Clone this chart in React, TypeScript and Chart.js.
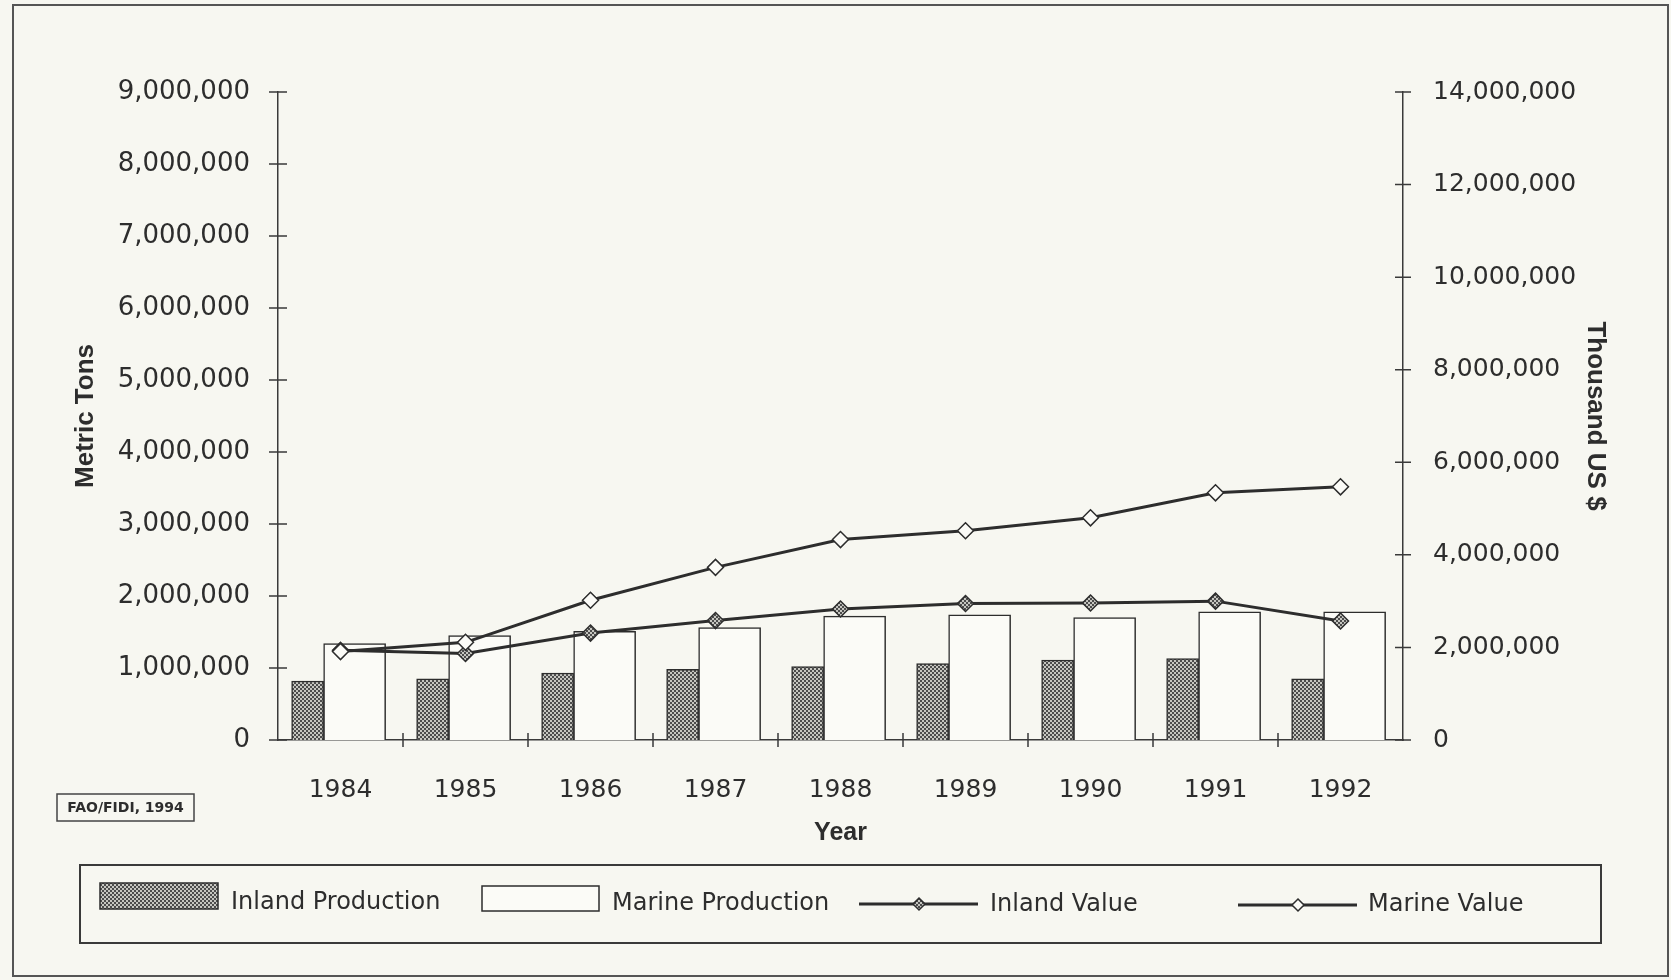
import React, { useEffect, useRef } from 'react';
import { Chart, registerables } from 'chart.js';

Chart.register(...registerables);

const years = ['1984', '1985', '1986', '1987', '1988', '1989', '1990', '1991', '1992'];
const inlandProduction = [820000, 850000, 930000, 980000, 1020000, 1060000, 1110000, 1130000, 850000];
const marineProduction = [1340000, 1450000, 1510000, 1560000, 1720000, 1740000, 1700000, 1780000, 1780000];
const inlandValue = [1940000, 1870000, 2310000, 2580000, 2830000, 2950000, 2960000, 3000000, 2570000];
const marineValue = [1910000, 2110000, 3020000, 3730000, 4330000, 4520000, 4800000, 5340000, 5470000];

const leftAxisMax = 9000000;
const leftAxisStep = 1000000;
const rightAxisMax = 14000000;
const rightAxisStep = 2000000;

const legendLabels = ['Inland Production', 'Marine Production', 'Inland Value', 'Marine Value'];
const sourceNote = 'FAO/FIDI, 1994';

const BG = '#f7f7f1';
const INK = '#2d2d2d';
const AXIS = '#3a3a3a';
const TICK_FONT = 'DejaVu Sans';
const TITLE_FONT = 'Liberation Sans';

const fmt = (v: number) => String(Math.round(v)).replace(/\B(?=(\d{3})+(?!\d))/g, ',');

function diamond(ctx: CanvasRenderingContext2D, x: number, y: number, r: number, fill: any) {
  ctx.beginPath();
  ctx.moveTo(x, y - r);
  ctx.lineTo(x + r, y);
  ctx.lineTo(x, y + r);
  ctx.lineTo(x - r, y);
  ctx.closePath();
  ctx.fillStyle = fill;
  ctx.fill();
  ctx.lineWidth = 1.5;
  ctx.strokeStyle = INK;
  ctx.stroke();
}

const integerTicks = (s: any) => {
  s.ticks = years.map((_, i) => ({ value: i }));
};

export default function App() {
  const ref = useRef<HTMLCanvasElement>(null);

  useEffect(() => {
    const canvas = ref.current!;
    const pc = document.createElement('canvas');
    pc.width = 4;
    pc.height = 4;
    const pctx = pc.getContext('2d')!;
    pctx.fillStyle = '#c6c6c0';
    pctx.fillRect(0, 0, 4, 4);
    pctx.fillStyle = '#4c4c4c';
    pctx.fillRect(0, 0, 2, 2);
    pctx.fillRect(2, 2, 2, 2);
    const pattern = canvas.getContext('2d')!.createPattern(pc, 'repeat')!;

    const decor = {
      id: 'decor',
      beforeDraw(chart: any) {
        const c = chart.ctx;
        c.save();
        c.fillStyle = BG;
        c.fillRect(0, 0, chart.width, chart.height);
        c.restore();
      },
      afterDraw(chart: any) {
        const c: CanvasRenderingContext2D = chart.ctx;
        const ys = chart.scales.y;
        const ys2 = chart.scales.y2;
        const xs = chart.scales.x;
        const area = chart.chartArea;
        c.save();
        // outer frame
        c.strokeStyle = '#555';
        c.lineWidth = 2;
        c.strokeRect(13, 5, 1655, 971);
        // crossing tick marks
        c.strokeStyle = AXIS;
        c.lineWidth = 1.5;
        c.beginPath();
        ys.ticks.forEach((t: any) => {
          const py = ys.getPixelForValue(t.value);
          c.moveTo(area.left - 9, py);
          c.lineTo(area.left + 9, py);
        });
        ys2.ticks.forEach((t: any) => {
          const py = ys2.getPixelForValue(t.value);
          c.moveTo(area.right - 8, py);
          c.lineTo(area.right + 8, py);
        });
        for (let i = 1; i < years.length; i++) {
          const px = (xs.getPixelForValue(i - 1) + xs.getPixelForValue(i)) / 2;
          c.moveTo(px, area.bottom - 7);
          c.lineTo(px, area.bottom + 7);
        }
        c.stroke();

        // source note
        c.lineWidth = 1.5;
        c.strokeStyle = '#444';
        c.strokeRect(57, 794, 137, 27);
        c.fillStyle = INK;
        c.font = `bold 14px "${TICK_FONT}"`;
        c.textAlign = 'center';
        c.textBaseline = 'middle';
        c.fillText(sourceNote, 125.5, 808);

        // legend
        c.lineWidth = 2;
        c.strokeStyle = '#3a3a3a';
        c.strokeRect(80, 865, 1521, 78);
        c.font = `24px "${TICK_FONT}"`;
        c.textAlign = 'left';
        c.textBaseline = 'middle';
        c.lineWidth = 1.5;
        c.strokeStyle = INK;
        c.fillStyle = pattern;
        c.fillRect(100, 883, 118, 26);
        c.strokeRect(100, 883, 118, 26);
        c.fillStyle = INK;
        c.fillText(legendLabels[0], 231, 903);

        c.fillStyle = '#fbfbf7';
        c.fillRect(482, 886, 117, 25);
        c.strokeRect(482, 886, 117, 25);
        c.fillStyle = INK;
        c.fillText(legendLabels[1], 612, 904);

        c.lineWidth = 3;
        c.beginPath();
        c.moveTo(859, 904);
        c.lineTo(978, 904);
        c.stroke();
        diamond(c, 919, 904, 6, pattern);
        c.fillStyle = INK;
        c.fillText(legendLabels[2], 990, 905);

        c.lineWidth = 3;
        c.strokeStyle = INK;
        c.beginPath();
        c.moveTo(1238, 905);
        c.lineTo(1357, 905);
        c.stroke();
        diamond(c, 1298, 905, 6, '#fbfbf7');
        c.fillStyle = INK;
        c.fillText(legendLabels[3], 1368, 905);
        c.restore();
      },
    };

    const titleFont = { family: TITLE_FONT, size: 26, weight: 'bold' as const };

    const chart = new Chart(canvas, {
      type: 'bar',
      data: {
        labels: years,
        datasets: [
          {
            type: 'line',
            label: legendLabels[3],
            data: marineValue,
            xAxisID: 'x',
            yAxisID: 'y2',
            borderColor: INK,
            borderWidth: 3,
            pointStyle: 'rectRot',
            pointRadius: 8,
            pointBackgroundColor: '#fbfbf7',
            pointBorderColor: INK,
            pointBorderWidth: 1.5,
            tension: 0,
            fill: false,
            order: 0,
          },
          {
            type: 'line',
            label: legendLabels[2],
            data: inlandValue,
            xAxisID: 'x',
            yAxisID: 'y2',
            borderColor: INK,
            borderWidth: 3,
            pointStyle: 'rectRot',
            pointRadius: 8,
            pointBackgroundColor: pattern,
            pointBorderColor: INK,
            pointBorderWidth: 1.5,
            tension: 0,
            fill: false,
            order: 1,
          },
          {
            type: 'bar',
            label: legendLabels[0],
            data: inlandProduction.map((v, i) => ({ x: i, y: v })),
            xAxisID: 'xb',
            yAxisID: 'y',
            backgroundColor: pattern,
            borderColor: INK,
            borderWidth: 1.5,
            barThickness: 32,
            order: 2,
          },
          {
            type: 'bar',
            label: legendLabels[1],
            data: marineProduction.map((v, i) => ({ x: i, y: v })),
            xAxisID: 'xb',
            yAxisID: 'y',
            backgroundColor: '#fbfbf7',
            borderColor: INK,
            borderWidth: 1.5,
            barThickness: 62,
            order: 2,
          },
        ] as any,
      },
      options: {
        responsive: false,
        animation: false,
        layout: { padding: { top: 92, left: 0, right: 0, bottom: 0 } },
        plugins: {
          legend: { display: false },
          tooltip: { enabled: false },
        },
        scales: {
          x: {
            type: 'category',
            position: 'bottom',
            offset: true,
            grid: { display: false, offset: true },
            border: { display: true, color: AXIS, width: 1.5 },
            ticks: { color: INK, font: { family: TICK_FONT, size: 25 }, padding: 27, maxRotation: 0, autoSkip: false },
            title: {
              display: true,
              text: 'Year',
              color: INK,
              font: { family: TITLE_FONT, size: 25, weight: 'bold' },
              padding: { top: 0, bottom: 132 },
            },
            afterFit: (s: any) => {
              s.height = 240;
            },
          },
          xb: {
            type: 'linear',
            display: false,
            position: 'bottom',
            bounds: 'data',
            min: -0.365,
            max: 8.635,
            offset: false,
            afterBuildTicks: integerTicks,
          },
          y: {
            type: 'linear',
            position: 'left',
            min: 0,
            max: leftAxisMax,
            grid: { display: false },
            border: { display: true, color: AXIS, width: 1.5 },
            ticks: { stepSize: leftAxisStep, color: INK, font: { family: TICK_FONT, size: 26 }, padding: 20, callback: (v: any) => fmt(Number(v)) },
            title: { display: true, text: 'Metric Tons', color: INK, font: titleFont, padding: { top: 70, bottom: 0 } },
            afterFit: (s: any) => {
              s.width = 278;
            },
          },
          y2: {
            type: 'linear',
            position: 'right',
            min: 0,
            max: rightAxisMax,
            grid: { display: false },
            border: { display: true, color: AXIS, width: 1.5 },
            ticks: { stepSize: rightAxisStep, color: INK, font: { family: TICK_FONT, size: 25 }, padding: 22, callback: (v: any) => fmt(Number(v)) },
            title: { display: true, text: 'Thousand US $', color: INK, font: titleFont, padding: { top: 60, bottom: 0 } },
            afterFit: (s: any) => {
              s.width = 268;
            },
          },
        } as any,
      },
      plugins: [decor],
    });

    return () => chart.destroy();
  }, []);

  return (
    <div style={{ position: 'fixed', left: 0, top: 0, width: 1671, height: 980, background: BG }}>
      <canvas ref={ref} width={1671} height={980} style={{ display: 'block', width: 1671, height: 980 }} />
    </div>
  );
}
